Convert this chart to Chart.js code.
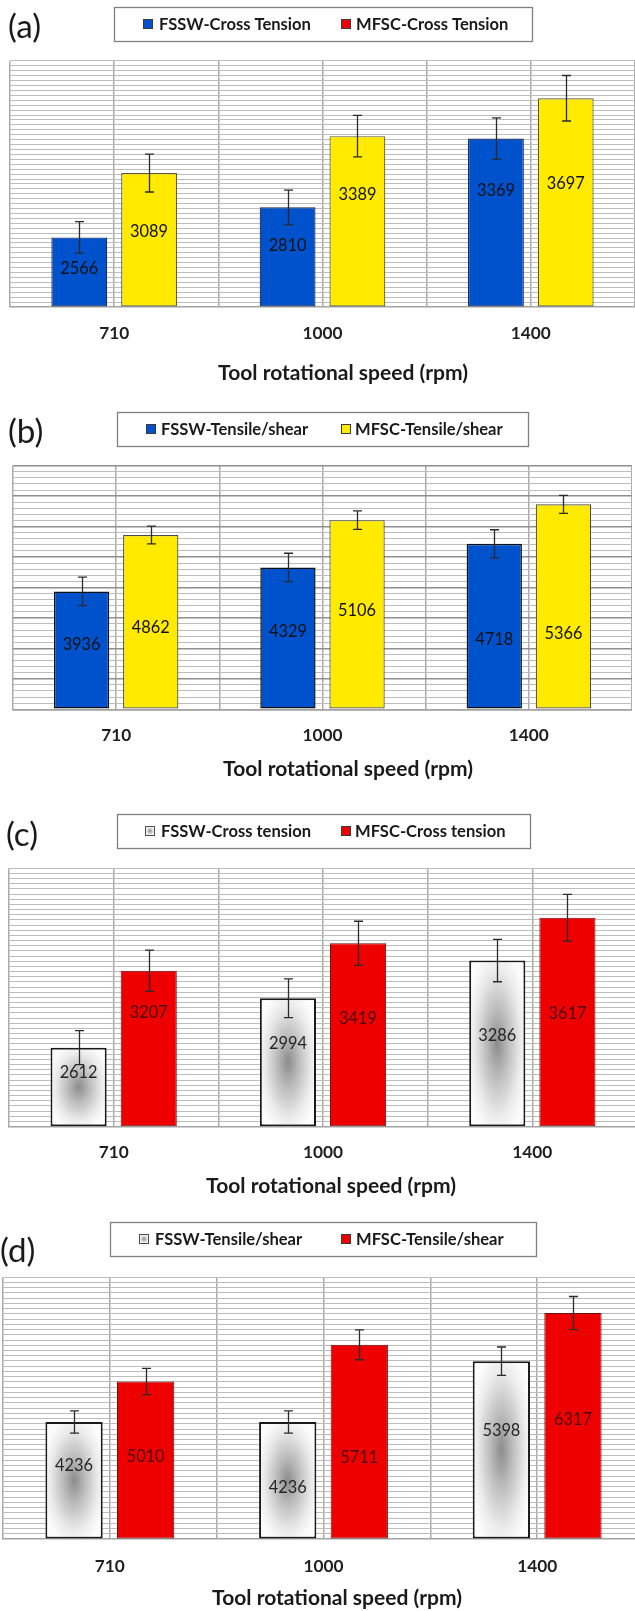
<!DOCTYPE html>
<html><head><meta charset="utf-8">
<script src="https://cdn.jsdelivr.net/npm/chart.js@4.4.1/dist/chart.umd.min.js"></script>
<style>
html,body{margin:0;padding:0;background:#fff;overflow:hidden;width:635px;height:1611px;position:relative;}
canvas{position:absolute;left:0;}
</style></head><body>
<canvas id="pa"></canvas>
<canvas id="pb"></canvas>
<canvas id="pc"></canvas>
<canvas id="pd"></canvas>
<script>
// ---------- DATA ----------
const speeds = ['710', '1000', '1400'];
const axisTitleText = 'Tool rotational speed (rpm)';

// (a) cross tension
const fsswCrossA = [2566, 2810, 3369];
const fsswCrossAErr = [128, 141, 168];
const mfscCrossA = [3089, 3389, 3697];
const mfscCrossAErr = [154, 169, 185];
// (b) tensile/shear
const fsswShearB = [3936, 4329, 4718];
const fsswShearBErr = [235, 233, 230];
const mfscShearB = [4862, 5106, 5366];
const mfscShearBErr = [146, 151, 148];
// (c) cross tension
const fsswCrossC = [2612, 2994, 3286];
const fsswCrossCErr = [131, 150, 164];
const mfscCrossC = [3207, 3419, 3617];
const mfscCrossCErr = [160, 171, 181];
// (d) tensile/shear
const fsswShearD = [4236, 4236, 5398];
const fsswShearDErr = [212, 212, 270];
const mfscShearD = [5010, 5711, 6317];
const mfscShearDErr = [251, 286, 316];

const namesA = ['FSSW-Cross Tension', 'MFSC-Cross Tension'];
const namesB = ['FSSW-Tensile/shear', 'MFSC-Tensile/shear'];
const namesC = ['FSSW-Cross tension', 'MFSC-Cross tension'];
const namesD = ['FSSW-Tensile/shear', 'MFSC-Tensile/shear'];

// ---------- STYLE HELPERS ----------
const FAM = 'Lato, "Open Sans", sans-serif';
const mctx = document.createElement('canvas').getContext('2d');
function fitSize(text, weight, target) {
  mctx.font = weight + ' 100px ' + FAM;
  return 100 * target / mctx.measureText(text).width;
}
const legendSize = fitSize('FSSW-Cross Tension', 'bold', 152);
const tickSize = fitSize('1000', 'bold', 40);
const titleSize = fitSize(axisTitleText, 'bold', 250);
const labelSize = fitSize('2566', 'normal', 38);
const letterSize = fitSize('(a)', 'normal', 33);

const BLUE = '#0052CC', YELLOW = '#FFEA00', RED = '#EE0000';

function gradFill(ctx, l, t, r, b) {
  const cx = (l + r) / 2, cy = (t + b) / 2, rx = (r - l) / 2, ry = (b - t) / 2;
  ctx.save();
  ctx.beginPath(); ctx.rect(l, t, r - l, b - t); ctx.clip();
  ctx.translate(cx, cy); ctx.scale(rx, ry);
  const g = ctx.createRadialGradient(0, 0, 0, 0, 0, 1.2);
  g.addColorStop(0, '#8c8c8c');
  g.addColorStop(0.35, '#bcbcbc');
  g.addColorStop(0.75, '#ebebeb');
  g.addColorStop(1, '#fcfcfc');
  ctx.fillStyle = g; ctx.fillRect(-3, -3, 6, 6);
  ctx.restore();
}

const deco = {
  id: 'deco',
  afterDatasetDraw(chart, args, o) {
    if (!o.gradient || o.gradient[args.index] !== true) return;
    const ctx = chart.ctx, bw = o.gradBorder || 2;
    args.meta.data.forEach(el => {
      const p = el.getProps(['x', 'y', 'base', 'width'], true);
      const l = p.x - p.width / 2 + bw, r = p.x + p.width / 2 - bw;
      const t = Math.min(p.y, p.base) + bw, b = Math.max(p.y, p.base) - bw;
      gradFill(ctx, l, t, r, b);
    });
  },
  afterDatasetsDraw(chart, args, o) {
    const ctx = chart.ctx, ys = chart.scales.y;
    const basePx = ys.getPixelForValue(ys.min);
    ctx.save();
    // value labels
    ctx.font = 'normal ' + labelSize.toFixed(2) + 'px ' + FAM;
    ctx.textAlign = 'center'; ctx.textBaseline = 'middle';
    chart.data.datasets.forEach((ds, d) => {
      const meta = chart.getDatasetMeta(d);
      meta.data.forEach((el, i) => {
        const y = basePx + o.labelFrac[d][i] * (el.y - basePx);
        ctx.fillStyle = o.labelColor[d];
        ctx.fillText(String(ds.data[i]), el.x, y);
      });
    });
    // error bars
    ctx.strokeStyle = '#2b2b2b'; ctx.lineWidth = 1.3;
    chart.data.datasets.forEach((ds, d) => {
      const meta = chart.getDatasetMeta(d);
      meta.data.forEach((el, i) => {
        const x = Math.round(el.x) + 0.5;
        const v = ds.data[i], e = o.errors[d][i];
        const y1 = ys.getPixelForValue(v + e), y2 = ys.getPixelForValue(v - e);
        ctx.beginPath();
        ctx.moveTo(x, y1); ctx.lineTo(x, y2);
        ctx.moveTo(x - 4.5, y1); ctx.lineTo(x + 4.5, y1);
        ctx.moveTo(x - 4.5, y2); ctx.lineTo(x + 4.5, y2);
        ctx.stroke();
      });
    });
    ctx.restore();
  },
  afterDraw(chart, args, o) {
    const ctx = chart.ctx;
    ctx.save();
    // panel letter
    ctx.fillStyle = '#1a1a1a';
    ctx.font = 'normal ' + letterSize.toFixed(2) + 'px ' + FAM;
    ctx.textAlign = 'left'; ctx.textBaseline = 'middle';
    ctx.fillText(o.letter, o.letterX, o.letterY);
    // legend box
    const lb = o.legendBox;
    ctx.strokeStyle = '#808080'; ctx.lineWidth = 1.3;
    ctx.fillStyle = '#ffffff';
    ctx.fillRect(lb[0], lb[1], lb[2] - lb[0], lb[3] - lb[1]);
    ctx.strokeRect(lb[0] + 0.5, lb[1] + 0.5, lb[2] - lb[0], lb[3] - lb[1]);
    const cy = (lb[1] + lb[3]) / 2;
    ctx.font = 'bold ' + legendSize.toFixed(2) + 'px ' + FAM;
    o.legendNames.forEach((name, k) => {
      const sx = o.swatchX[k], s = 10, sy = Math.round(cy - s / 2);
      if (o.swatch[k] === 'grad') {
        ctx.fillStyle = '#ffffff'; ctx.fillRect(sx, sy, s, s);
        gradFill(ctx, sx + 1, sy + 1, sx + s - 1, sy + s - 1);
        ctx.strokeStyle = '#4d4d4d';
      } else {
        ctx.fillStyle = o.swatch[k]; ctx.fillRect(sx, sy, s, s);
        ctx.strokeStyle = '#3a3a3a';
      }
      ctx.lineWidth = 1;
      ctx.strokeRect(sx + 0.5, sy + 0.5, s - 1, s - 1);
      ctx.fillStyle = '#1a1a1a';
      ctx.textAlign = 'left'; ctx.textBaseline = 'middle';
      ctx.fillText(name, o.textX[k], cy + 1);
    });
    // axis title
    ctx.font = 'bold ' + titleSize.toFixed(2) + 'px ' + FAM;
    ctx.textAlign = 'center'; ctx.textBaseline = 'middle';
    ctx.fillStyle = '#1a1a1a';
    ctx.fillText(axisTitleText, o.titleX, o.titleY);
    ctx.restore();
  }
};

function makePanel(cfg) {
  const cv = document.getElementById(cfg.id);
  cv.width = cfg.w; cv.height = cfg.h;
  cv.style.width = cfg.w + 'px'; cv.style.height = cfg.h + 'px';
  cv.style.top = cfg.top + 'px';
  const axisH = cfg.h - cfg.bottom;
  return new Chart(cv.getContext('2d'), {
    type: 'bar',
    data: {
      labels: speeds,
      datasets: [
        { label: cfg.names[0], data: cfg.s1, xAxisID: 'x', base: cfg.yMin, backgroundColor: cfg.fill[0],
          borderColor: cfg.border[0], borderWidth: cfg.bw[0], borderSkipped: false,
          categoryPercentage: 0.67, barPercentage: 0.8 },
        { label: cfg.names[1], data: cfg.s2, xAxisID: 'x', base: cfg.yMin, backgroundColor: cfg.fill[1],
          borderColor: cfg.border[1], borderWidth: cfg.bw[1], borderSkipped: false,
          categoryPercentage: 0.67, barPercentage: 0.8 }
      ]
    },
    options: {
      responsive: false, animation: false, devicePixelRatio: 1,
      layout: { padding: { left: cfg.left, top: cfg.areaTop, right: 0, bottom: 0 } },
      scales: {
        x: {
          type: 'category', offset: true, position: 'bottom',
          grid: { offset: true, color: '#ababab', lineWidth: 1.5, drawTicks: false },
          border: { display: true, color: '#a3a3a3', width: 1.5 },
          ticks: { font: { family: FAM, size: tickSize, weight: 'bold' }, color: '#1f1f1f',
                   padding: cfg.tickPad, maxRotation: 0, autoSkip: false },
          afterFit(s) { s.height = axisH; }
        },
        x2: {
          type: 'category', offset: true, position: 'bottom',
          grid: { offset: false, color: '#ababab', lineWidth: 1.5, drawTicks: false },
          border: { display: false },
          ticks: { display: false },
          afterFit(s) { s.height = 0; }
        },
        y: {
          min: cfg.yMin, max: cfg.yMax,
          ticks: { display: false, stepSize: cfg.step },
          grid: {
            drawTicks: false,
            color: c => (cfg.major && c.tick && (c.tick.value - cfg.yMin) % cfg.major === 0) ? '#8f8f8f' : '#bdbdbd',
            lineWidth: c => (cfg.major && c.tick && (c.tick.value - cfg.yMin) % cfg.major === 0) ? 1.6 : 1.1
          },
          border: { display: false },
          afterFit(s) { s.width = 0; }
        }
      },
      plugins: {
        legend: { display: false }, tooltip: { enabled: false },
        deco: {
          gradient: cfg.gradient, gradBorder: cfg.bw[0],
          errors: cfg.errors, labelFrac: cfg.labelFrac, labelColor: cfg.labelColor,
          letter: cfg.letter, letterX: cfg.letterX, letterY: cfg.letterY,
          legendBox: cfg.legendBox, legendNames: cfg.names, swatch: cfg.swatch,
          swatchX: cfg.swatchX, textX: cfg.textX, titleX: cfg.titleX, titleY: cfg.titleY
        }
      }
    },
    plugins: [deco]
  });
}

makePanel({
  id: 'pa', top: 0, w: 635, h: 395, left: 10, areaTop: 61, bottom: 307, tickPad: 16,
  yMin: 2000, yMax: 4000, step: 40, major: 0,
  s1: fsswCrossA, s2: mfscCrossA, errors: [fsswCrossAErr, mfscCrossAErr], names: namesA,
  fill: [BLUE, YELLOW], border: ['#1a2a55', '#5a5a3a'], bw: [1.2, 1.2], gradient: [false, false],
  labelFrac: [[0.55, 0.62, 0.69], [0.56, 0.66, 0.59]], labelColor: ['#111111', '#111111'],
  letter: '(a)', letterX: 8, letterY: 27,
  legendBox: [114, 7, 532, 41], swatch: [BLUE, RED], swatchX: [143, 341], textX: [159, 356],
  titleX: 343, titleY: 373
});
makePanel({
  id: 'pb', top: 395, w: 632, h: 395, left: 13, areaTop: 70.7, bottom: 314.3, tickPad: 15.5,
  yMin: 2000, yMax: 6000, step: 100, major: 500,
  s1: fsswShearB, s2: mfscShearB, errors: [fsswShearBErr, mfscShearBErr], names: namesB,
  fill: [BLUE, YELLOW], border: ['#101010', '#4a4a4a'], bw: [1.5, 1.2], gradient: [false, false],
  labelFrac: [[0.55, 0.55, 0.42], [0.47, 0.52, 0.37]], labelColor: ['#111111', '#111111'],
  letter: '(b)', letterX: 8, letterY: 37,
  legendBox: [117, 17, 528, 51], swatch: [BLUE, YELLOW], swatchX: [146, 341], textX: [161, 355],
  titleX: 348, titleY: 374
});
makePanel({
  id: 'pc', top: 790, w: 637, h: 410, left: 9, areaTop: 78.3, bottom: 336.7, tickPad: 15.8,
  yMin: 2000, yMax: 4000, step: 40, major: 0,
  s1: fsswCrossC, s2: mfscCrossC, errors: [fsswCrossCErr, mfscCrossCErr], names: namesC,
  fill: ['#e6e6e6', RED], border: ['#1a1a1a', '#6e1010'], bw: [2, 1], gradient: [true, false],
  labelFrac: [[0.68, 0.65, 0.55], [0.73, 0.59, 0.54]], labelColor: ['#262626', '#4a0000'],
  letter: '(c)', letterX: 6, letterY: 45,
  legendBox: [117, 24, 530, 58], swatch: ['grad', RED], swatchX: [145, 341], textX: [161, 355],
  titleX: 331, titleY: 396
});
makePanel({
  id: 'pd', top: 1200, w: 644, h: 411, left: 3, areaTop: 77.3, bottom: 339, tickPad: 17.5,
  yMin: 2000, yMax: 7000, step: 100, major: 0,
  s1: fsswShearD, s2: mfscShearD, errors: [fsswShearDErr, mfscShearDErr], names: namesD,
  fill: ['#e6e6e6', RED], border: ['#1a1a1a', '#6e1010'], bw: [2, 1], gradient: [true, false],
  labelFrac: [[0.63, 0.44, 0.61], [0.52, 0.42, 0.53]], labelColor: ['#262626', '#4a0000'],
  letter: '(d)', letterX: 0, letterY: 51,
  legendBox: [110, 22, 536, 56], swatch: ['grad', RED], swatchX: [139, 341], textX: [155, 356],
  titleX: 337, titleY: 398
});
</script>
</body></html>
